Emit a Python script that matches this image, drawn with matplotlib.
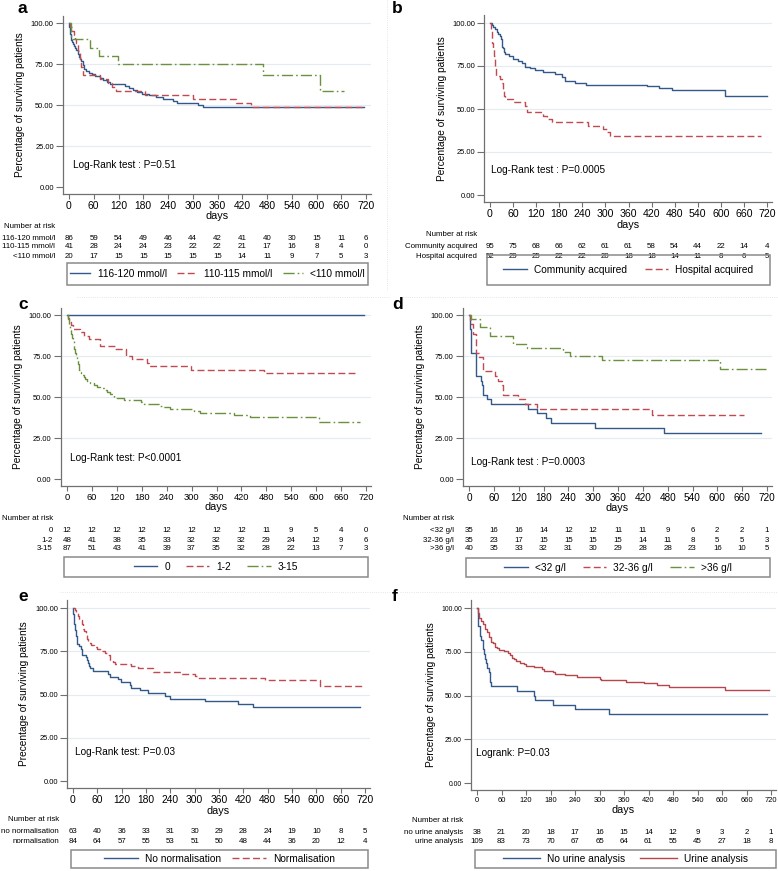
import matplotlib
matplotlib.use('Agg')
import matplotlib.pyplot as plt
import matplotlib.transforms as mtransforms
from matplotlib.patches import Rectangle
from matplotlib.lines import Line2D

plt.rcParams['font.family'] = ['Liberation Sans', 'DejaVu Sans']

W, H = 778, 871
day_ticks = list(range(0, 721, 60))
pct_ticks = [0, 25, 50, 75, 100]

# ---------------- data (Kaplan-Meier steps: day, % surviving) ----------------
# a: sodium
a_blue_t = [0, 1, 2, 3, 4, 6, 8, 10, 12, 15, 18, 21, 24, 27, 30, 33, 37, 42, 48, 55,
            62, 75, 83, 91, 99, 135, 145, 155, 165, 178, 195, 210, 228, 253, 262, 312, 325, 716]
a_blue_s = [100, 97.7, 95.3, 93.0, 90.7, 89.5, 88.4, 87.2, 86.0, 84.9, 83.7, 81.4, 79.1, 77.9, 76.7, 74.4, 72.1, 70.9, 69.8, 68.6,
            67.4, 66.3, 65.1, 64.0, 62.8, 61.6, 60.5, 59.3, 58.1, 57.0, 55.8, 54.7, 53.5, 52.3, 51.2, 50.0, 48.8, 48.8]
a_red_t = [0, 3, 8, 12, 15, 18, 22, 26, 30, 33, 75, 95, 105, 115, 185, 300, 405, 440, 714]
a_red_s = [100, 97.6, 95.1, 92.7, 90.2, 87.8, 82.9, 78.0, 73.2, 68.3, 65.9, 63.4, 61.0, 58.5, 56.1, 53.7, 51.2, 48.8, 48.8]
a_green_t = [0, 5, 50, 72, 119, 471, 609, 666]
a_green_s = [100, 90, 85, 80, 75, 68.2, 58.4, 58.4]
a_names = ['116-120 mmol/l', '110-115 mmol/l', '<110 mmol/l']
a_risk = [[86, 59, 54, 49, 46, 44, 42, 41, 40, 30, 15, 11, 6],
          [41, 28, 24, 24, 23, 22, 22, 21, 17, 16, 8, 4, 0],
          [20, 17, 15, 15, 15, 15, 15, 14, 11, 9, 7, 5, 3]]

# b: acquisition
b_blue_t = [0, 4, 9, 14, 17, 21, 25, 28, 30, 32, 34, 36, 38, 50, 60, 73, 82, 90, 103, 116,
            138, 169, 186, 195, 220, 250, 407, 440, 473, 611, 720]
b_blue_s = [100, 98.9, 97.9, 96.8, 94.7, 93.7, 92.6, 90.5, 88.4, 86.3, 85.3, 83.2, 82.1, 81.1, 78.9, 77.9, 76.8, 74.7, 73.7, 72.6,
            71.6, 70.5, 68.4, 66.3, 65.3, 64.2, 63.1, 62.0, 60.9, 57.8, 57.8]
b_red_t = [0, 2, 4, 6, 8, 10, 12, 14, 16, 25, 30, 33, 36, 40, 60, 90, 95, 138, 147, 160, 255, 295, 303, 312, 705]
b_red_s = [100, 96.2, 92.3, 88.5, 84.6, 80.8, 76.9, 73.1, 69.2, 67.3, 65.4, 61.5, 57.7, 55.8, 53.8, 51.9, 48.1, 46.2, 44.2, 42.3,
           40.4, 38.3, 36.4, 34.4, 34.4]
b_names = ['Community acquired', 'Hospital acquired']
b_risk = [[95, 75, 68, 66, 62, 61, 61, 58, 54, 44, 22, 14, 4],
          [52, 29, 25, 22, 22, 20, 18, 18, 14, 11, 8, 6, 5]]

# c: score
c_blue_t = [0, 714]
c_blue_s = [100, 100]
c_red_t = [0, 3, 6, 10, 14, 32, 42, 52, 80, 116, 143, 157, 193, 197, 299, 474, 694]
c_red_s = [100, 97.9, 95.8, 93.8, 91.7, 89.6, 87.5, 85.4, 81.3, 79.2, 75.0, 72.9, 70.8, 68.8, 66.6, 64.4, 64.4]
c_green_t = [0, 2, 4, 6, 8, 10, 12, 14, 16, 18, 20, 22, 24, 26, 28, 30, 32, 34, 36, 40,
             44, 48, 56, 64, 72, 80, 88, 96, 104, 112, 137, 177, 185, 225, 233, 249, 305, 321, 401, 441, 606, 706]
c_green_s = [100, 97.7, 95.4, 93.1, 90.8, 88.5, 86.2, 83.9, 81.6, 79.3, 77.0, 74.7, 72.4, 70.1, 67.8, 66.7, 65.5, 64.4, 63.2, 62.1,
             60.9, 59.8, 58.6, 57.5, 56.3, 55.2, 54.0, 52.9, 51.7, 49.4, 48.3, 47.1, 46.0, 44.8, 43.7, 42.5, 41.4, 40.2, 39.1, 37.9,
             34.9, 34.9]
c_names = ['0', '1-2', '3-15']
c_risk = [[12, 12, 12, 12, 12, 12, 12, 12, 11, 9, 5, 4, 0],
          [48, 41, 38, 35, 33, 32, 32, 32, 29, 24, 12, 9, 6],
          [87, 51, 43, 41, 39, 37, 35, 32, 28, 22, 13, 7, 3]]

# d: albumin
d_blue_t = [0, 2, 3, 4, 5, 16, 28, 31, 35, 43, 52, 143, 164, 186, 198, 305, 472, 705]
d_blue_s = [100, 97.1, 91.4, 85.7, 77.1, 62.9, 60.0, 57.1, 51.4, 48.6, 45.7, 42.9, 40.0, 37.1, 34.3, 31.4, 28.3, 28.3]
d_red_t = [0, 3, 6, 10, 17, 23, 33, 62, 71, 79, 83, 118, 135, 164, 443, 664]
d_red_s = [100, 97.1, 94.3, 88.6, 77.1, 74.3, 65.7, 62.9, 60.0, 57.1, 51.4, 48.6, 45.7, 42.9, 39.3, 39.3]
d_green_t = [0, 6, 27, 51, 107, 140, 226, 244, 321, 607, 718]
d_green_s = [100, 97.5, 92.5, 87.5, 82.5, 80.0, 77.5, 75.0, 72.4, 67.2, 67.2]
d_names = ['<32 g/l', '32-36 g/l', '>36 g/l']
d_risk = [[35, 16, 16, 14, 12, 12, 11, 11, 9, 6, 2, 2, 1],
          [35, 23, 17, 15, 15, 15, 15, 14, 11, 8, 5, 5, 3],
          [40, 35, 33, 32, 31, 30, 29, 28, 28, 23, 16, 10, 5]]

# e: normalisation
e_blue_t = [0, 1, 2, 3, 5, 7, 10, 16, 20, 23, 31, 34, 37, 40, 43, 49, 86, 90, 111, 119,
            140, 144, 165, 185, 226, 239, 325, 407, 444, 708]
e_blue_s = [100, 96.8, 93.7, 90.5, 87.3, 84.1, 79.4, 77.8, 76.2, 73.0, 71.4, 69.8, 68.3, 66.7, 65.1, 63.5, 61.9, 60.3, 58.7, 57.1,
            55.6, 54.0, 52.4, 50.8, 49.2, 47.6, 46.0, 44.4, 42.7, 42.7]
e_red_t = [0, 4, 8, 12, 16, 21, 25, 28, 31, 35, 37, 45, 52, 58, 66, 78, 84, 90, 98, 103,
           144, 160, 198, 267, 300, 305, 473, 609, 720]
e_red_s = [100, 98.8, 97.6, 95.2, 92.9, 90.5, 88.1, 86.9, 85.7, 82.1, 79.8, 78.6, 77.4, 76.2, 75.0, 73.8, 72.6, 70.2, 69.0, 67.9,
           66.7, 65.5, 63.1, 61.9, 60.7, 59.5, 58.1, 55.0, 55.0]
e_names = ['No normalisation', 'Normalisation']
e_row_names = ['no normalisation', 'normalisation']
e_risk = [[63, 40, 36, 33, 31, 30, 29, 28, 24, 19, 10, 8, 5],
          [84, 64, 57, 55, 53, 51, 50, 48, 44, 36, 20, 12, 4]]

# f: urine analysis
f_blue_t = [0, 2, 3, 8, 11, 15, 18, 20, 23, 25, 29, 31, 35, 99, 139, 143, 186, 239, 323, 709]
f_blue_s = [100, 97.4, 89.5, 84.2, 81.6, 76.3, 73.7, 71.1, 68.4, 65.8, 63.2, 57.9, 55.3, 52.6, 50.0, 47.4, 44.7, 42.1, 39.5, 39.5]
f_red_t = [0, 3, 6, 10, 15, 20, 25, 30, 35, 40, 45, 50, 55, 65, 75, 80, 85, 90, 95, 105,
           115, 120, 140, 160, 165, 185, 190, 215, 245, 300, 303, 365, 410, 440, 470, 607, 716]
f_red_s = [100, 97.2, 94.5, 92.7, 90.8, 88.1, 86.2, 83.5, 80.7, 79.8, 78.0, 77.1, 76.1, 75.2, 74.3, 73.4, 71.6, 70.6, 69.7, 68.8,
           67.9, 67.0, 66.1, 65.1, 64.2, 63.3, 62.4, 61.5, 60.6, 59.6, 58.7, 57.8, 56.9, 55.9, 55.0, 52.9, 52.9]
f_names = ['No urine analysis', 'Urine analysis']
f_row_names = ['no urine analysis', 'urine analysis']
f_risk = [[38, 21, 20, 18, 17, 16, 15, 14, 12, 9, 3, 2, 1],
          [109, 83, 73, 70, 67, 65, 64, 61, 55, 45, 27, 18, 8]]

# ---------------- style ----------------
BLUE = '#33598a'
RED = '#c04a50'
GREEN = '#6b913f'
DASH = (0, (5, 2.4))
LDASH_DOT = (0, (8, 2.2, 1.2, 2.2))
AXC = '#707070'
XMIN, XMAX, YMIN, YMAX = -15, 732, -4, 104.5

fig = plt.figure(figsize=(W / 100, H / 100), dpi=100)


def km_panel(letter, geom, curves, names, row_names, risk, logrank, ylabel,
             handlelen=2.1, colspace=1.4, xfs=7.2, yfs=5.4):
    x0, x720, y100, y0 = geom['axis']
    ppd = (x720 - x0) / 720.0
    ppu = (y0 - y100) / 100.0
    left = x0 + XMIN * ppd
    right = x0 + XMAX * ppd
    top = y100 - (YMAX - 100) * ppu
    bottom = y0 - YMIN * ppu
    ax = fig.add_axes([left / W, 1 - bottom / H, (right - left) / W, (bottom - top) / H])
    ax.set_xlim(XMIN, XMAX)
    ax.set_ylim(YMIN, YMAX)
    for sp in ['top', 'right']:
        ax.spines[sp].set_visible(False)
    for sp in ['left', 'bottom']:
        ax.spines[sp].set_color(AXC)
        ax.spines[sp].set_linewidth(0.9)
    for v in pct_ticks[1:]:
        ax.axhline(v, color='#e3ecf0', lw=0.8, zorder=0)

    lines = []
    for t, s, c, ls in curves:
        ln, = ax.step(t, s, where='post', color=c, lw=1.0, linestyle=ls)
        lines.append(ln)

    ax.set_xticks(day_ticks)
    ax.set_yticks(pct_ticks)
    ax.set_yticklabels(['%.2f' % v for v in pct_ticks])
    ax.tick_params(axis='y', labelsize=yfs, length=5, width=0.8, color=AXC, pad=1.5)
    ax.tick_params(axis='x', labelsize=xfs, length=3.5, width=0.8, color=AXC, pad=1.5)
    ax.set_xlabel('days', fontsize=7.8, labelpad=0.5)
    ax.set_ylabel(ylabel, fontsize=7.3, labelpad=4)
    ax.text(geom['lr'][0], geom['lr'][1], logrank, fontsize=7.2, va='center')

    fig.text(geom['letter'][0] / W, 1 - geom['letter'][1] / H, letter,
             fontsize=12.5, fontweight='bold', va='baseline')

    # numbers at risk
    trans = mtransforms.blended_transform_factory(ax.transData, fig.transFigure)
    lx = geom['lab_x'] / W
    fig.text(lx, 1 - geom['nar_y'] / H, 'Number at risk', fontsize=5.7, ha='right', va='center')
    for row, name, yy in zip(risk, row_names, geom['rows']):
        fig.text(lx, 1 - yy / H, name, fontsize=5.7, ha='right', va='center')
        for d, n in zip(day_ticks, row):
            ax.text(d, 1 - yy / H, str(n), transform=trans, fontsize=5.7,
                    ha='center', va='center')

    # legend box
    l, t_, r, b = geom['leg']
    fig.patches.append(Rectangle((l / W, 1 - b / H), (r - l) / W, (b - t_) / H,
                                 transform=fig.transFigure, fill=False,
                                 edgecolor='#8a8a8a', lw=1.1))
    fig.legend(lines, names, loc='center', bbox_to_anchor=((l + r) / 2 / W, 1 - (t_ + b) / 2 / H),
               bbox_transform=fig.transFigure, ncol=len(names), frameon=False,
               fontsize=7.3, handlelength=handlelen, columnspacing=colspace,
               handletextpad=0.7, borderpad=0, borderaxespad=0)
    return ax


GEOM = {
    'a': dict(axis=(69, 366, 23, 187), letter=(18, 13), nar_y=226, rows=(238, 247, 257),
              lab_x=55, leg=(67, 263, 368, 285), lr=(10, 13.4)),
    'b': dict(axis=(490, 767, 23, 195), letter=(392, 13), nar_y=235, rows=(247, 257),
              lab_x=477, leg=(487, 255, 770, 285), lr=(2, 14.5)),
    'c': dict(axis=(67, 366, 315, 479), letter=(18, 309), nar_y=518, rows=(530, 540, 549),
              lab_x=53, leg=(64, 557, 368, 577), lr=(7, 12.8)),
    'd': dict(axis=(469, 767, 315, 479), letter=(392, 309), nar_y=518, rows=(530, 540, 549),
              lab_x=454, leg=(466, 558, 770, 577), lr=(4, 10.4)),
    'e': dict(axis=(73, 365, 608, 781), letter=(18, 601), nar_y=819, rows=(831, 841),
              lab_x=59, leg=(71, 850, 368, 868), lr=(5, 16.8)),
    'f': dict(axis=(477, 771, 608, 783), letter=(392, 601), nar_y=820, rows=(832, 841),
              lab_x=463, leg=(475, 850, 776, 868), lr=(-2, 17)),
}

YLAB = 'Percentage of surviving patients'

km_panel('a', GEOM['a'],
         [(a_blue_t, a_blue_s, BLUE, '-'), (a_red_t, a_red_s, RED, DASH),
          (a_green_t, a_green_s, GREEN, LDASH_DOT)],
         a_names, a_names, a_risk, 'Log-Rank test : P=0.51', YLAB, 2.0, 1.0, xfs=7.4)
km_panel('b', GEOM['b'],
         [(b_blue_t, b_blue_s, BLUE, '-'), (b_red_t, b_red_s, RED, DASH)],
         b_names, b_names, b_risk, 'Log-Rank test : P=0.0005', YLAB, 2.3, 1.8, xfs=7.6)
km_panel('c', GEOM['c'],
         [(c_blue_t, c_blue_s, BLUE, '-'), (c_red_t, c_red_s, RED, DASH),
          (c_green_t, c_green_s, GREEN, LDASH_DOT)],
         c_names, c_names, c_risk, 'Log-Rank test: P<0.0001', YLAB, 2.3, 1.6, xfs=6.7)
km_panel('d', GEOM['d'],
         [(d_blue_t, d_blue_s, BLUE, '-'), (d_red_t, d_red_s, RED, DASH),
          (d_green_t, d_green_s, GREEN, LDASH_DOT)],
         d_names, d_names, d_risk, 'Log-Rank test : P=0.0003', YLAB, 2.3, 1.7, xfs=7.2)
km_panel('e', GEOM['e'],
         [(e_blue_t, e_blue_s, BLUE, '-'), (e_red_t, e_red_s, RED, DASH)],
         e_names, e_row_names, e_risk, 'Log-Rank test: P=0.03',
         'Precentage of surviving patients', 3.4, 1.0, xfs=7.4)
km_panel('f', GEOM['f'],
         [(f_blue_t, f_blue_s, BLUE, '-'), (f_red_t, f_red_s, '#b5464c', '-')],
         f_names, f_row_names, f_risk, 'Logrank: P=0.03', YLAB, 3.6, 1.5, xfs=5.4, yfs=4.9)

# faint dotted region borders
for xs, ys in [((77, 390), (297, 297)), ((403, 778), (297, 297)),
               ((60, 390), (592, 592)), ((400, 778), (592, 592)),
               ((387, 387), (0, 290))]:
    fig.add_artist(Line2D([x / W for x in xs], [1 - y / H for y in ys],
                          transform=fig.transFigure, color='#d8dfe4', lw=0.6, ls=':'))

fig.savefig('out.png', dpi=100)
